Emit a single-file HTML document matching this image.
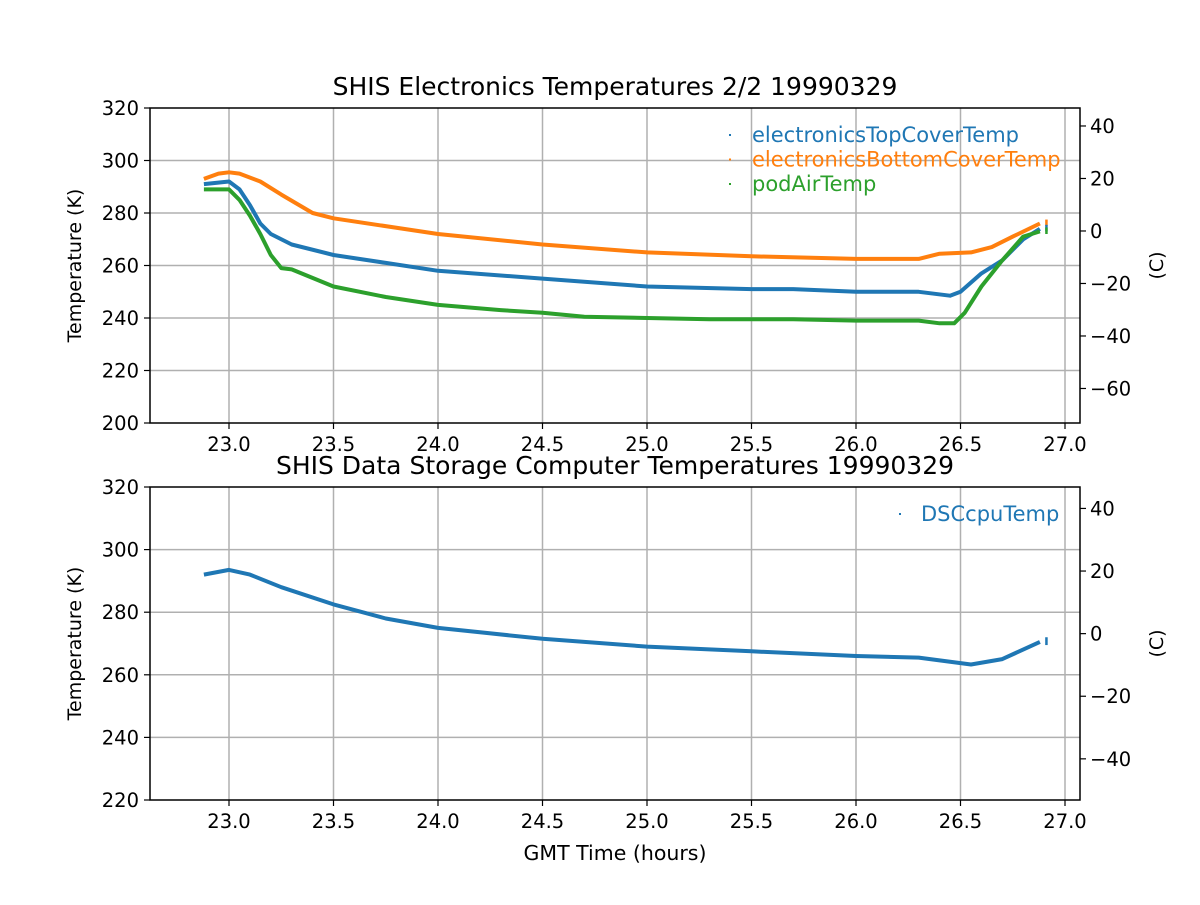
<!DOCTYPE html>
<html><head><meta charset="utf-8"><style>
body{margin:0;background:#fff}
svg text{font-family:"DejaVu Sans","Liberation Sans",sans-serif}
</style></head><body>
<svg id="s" width="1200" height="900" xmlns="http://www.w3.org/2000/svg"></svg>
<script>
const s=document.getElementById('s');let h='';
const X=t=>229+(t-23)*209;
function axes(top,bot,kmin,kmax,kstep,cticks,title){
  const Y=k=>bot-(k-kmin)*(bot-top)/(kmax-kmin);
  for(let t=23;t<=27.001;t+=0.5){h+=`<line x1="${X(t)}" x2="${X(t)}" y1="${top}" y2="${bot}" stroke="#b0b0b0" stroke-width="1.5"/>`;}
  for(let k=kmin+kstep;k<kmax;k+=kstep){h+=`<line x1="150" x2="1080" y1="${Y(k)}" y2="${Y(k)}" stroke="#b0b0b0" stroke-width="1.5"/>`;}
  h+=`<rect x="150" y="${top}" width="930" height="${bot-top}" fill="none" stroke="#000" stroke-width="1.5"/>`;
  for(let t=23;t<=27.001;t+=0.5){const x=X(t);h+=`<line x1="${x}" x2="${x}" y1="${bot}" y2="${bot+6}" stroke="#000" stroke-width="1.2"/><text x="${x}" y="${bot+28}" font-size="19.5" text-anchor="middle">${t.toFixed(1)}</text>`;}
  for(let k=kmin;k<=kmax;k+=kstep){const y=Y(k);h+=`<line x1="144" x2="150" y1="${y}" y2="${y}" stroke="#000" stroke-width="1.2"/><text x="139" y="${y+7}" font-size="19.5" text-anchor="end">${k}</text>`;}
  for(const c of cticks){const y=Y(c+273.15);h+=`<line x1="1080" x2="1086" y1="${y}" y2="${y}" stroke="#000" stroke-width="1.2"/><text x="1090" y="${y+7}" font-size="19.5">${c<0?'\u2212'+(-c):c}</text>`;}
  const my=(top+bot)/2;
  h+=`<text transform="translate(81,${my}) rotate(-90)" font-size="19" text-anchor="middle">Temperature (K)</text>`;
  h+=`<text transform="translate(1163,${my}) rotate(-90)" font-size="19" text-anchor="middle">(C)</text>`;
  h+=`<text x="615" y="${top-13}" font-size="25" text-anchor="middle">${title}</text>`;
  return Y;
}
function series(Y,pts,col){
  h+=`<polyline fill="none" stroke="${col}" stroke-width="4" stroke-linejoin="round" points="${pts.map(p=>X(p[0]).toFixed(1)+','+Y(p[1]).toFixed(1)).join(' ')}"/>`;
  const e=pts[pts.length-1];h+=`<rect x="${X(26.91)-1}" y="${Y(e[1]+1.5)}" width="2.5" height="${Math.abs(Y(e[1]-1)-Y(e[1]+1.5))}" fill="${col}"/>`;
}
let Y=axes(108,423,200,320,20,[40,20,0,-20,-40,-60],'SHIS Electronics Temperatures 2/2 19990329');
series(Y,[[22.88,293],[22.95,295],[23.0,295.5],[23.05,295],[23.15,292],[23.25,287],[23.4,280],[23.5,278],[24,272],[24.5,268],[25,265],[25.5,263.5],[26,262.5],[26.3,262.5],[26.4,264.5],[26.55,265],[26.65,267],[26.75,271],[26.88,276]],'#ff7f0e');
series(Y,[[22.88,291],[23.0,292],[23.05,289],[23.1,283],[23.15,276],[23.2,272],[23.3,268],[23.5,264],[23.75,261],[24,258],[24.5,255],[25,252],[25.5,251],[25.7,251],[26,250],[26.3,250],[26.45,248.5],[26.5,250],[26.6,257],[26.7,262],[26.8,270],[26.88,274]],'#1f77b4');
series(Y,[[22.88,289],[23.0,289],[23.05,285],[23.1,279],[23.15,272],[23.2,264],[23.25,259],[23.3,258.5],[23.5,252],[23.75,248],[24,245],[24.3,243],[24.5,242],[24.7,240.5],[25,240],[25.3,239.5],[25.7,239.5],[26,239],[26.3,239],[26.4,238],[26.47,238],[26.52,242],[26.6,252],[26.7,262],[26.8,271],[26.88,273]],'#2ca02c');
const L=[['electronicsTopCoverTemp','#1f77b4'],['electronicsBottomCoverTemp','#ff7f0e'],['podAirTemp','#2ca02c']];
L.forEach((l,i)=>{const y=135+i*24.5;h+=`<rect x="729" y="${y-1}" width="2" height="2" fill="${l[1]}"/><text x="752" y="${y+7}" font-size="21" fill="${l[1]}">${l[0]}</text>`;});
Y=axes(487,800,220,320,20,[40,20,0,-20,-40],'SHIS Data Storage Computer Temperatures 19990329');
series(Y,[[22.88,292],[23.0,293.5],[23.1,292],[23.25,288],[23.5,282.5],[23.75,278],[24,275],[24.5,271.5],[25,269],[25.5,267.5],[26,266],[26.3,265.5],[26.55,263.3],[26.7,265],[26.88,270.5]],'#1f77b4');
h+=`<rect x="899" y="513" width="2" height="2" fill="#1f77b4"/><text x="921" y="521" font-size="21" fill="#1f77b4">DSCcpuTemp</text>`;
h+=`<text x="615" y="860" font-size="20.5" text-anchor="middle">GMT Time (hours)</text>`;
s.innerHTML=h;
</script>
</body></html>
